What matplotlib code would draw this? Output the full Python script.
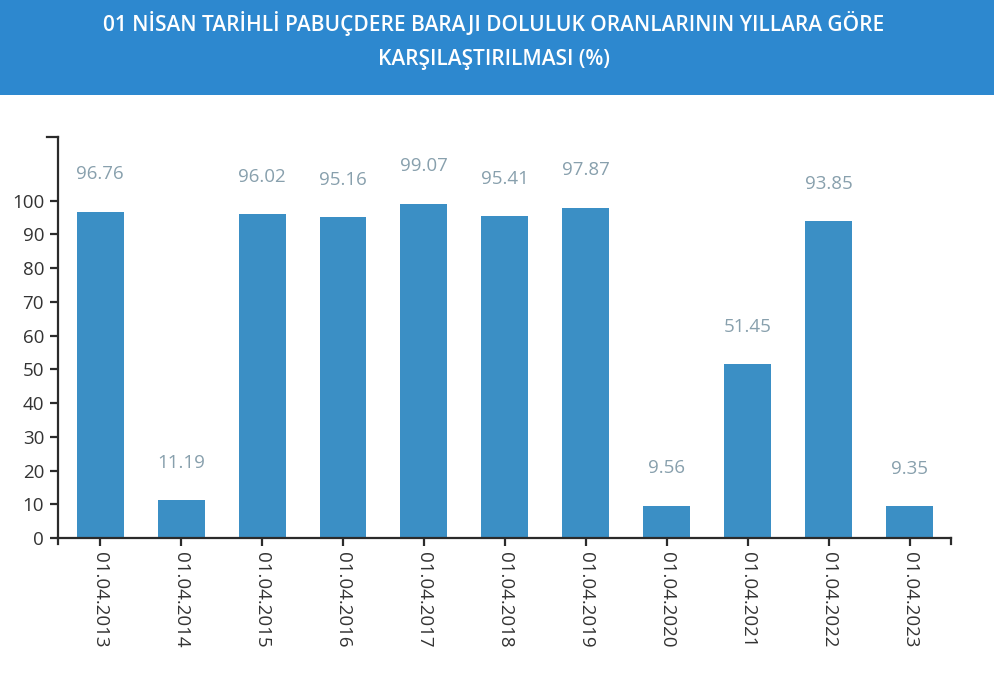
import matplotlib
matplotlib.use('Agg')
import matplotlib.pyplot as plt
from matplotlib.patches import Rectangle

plt.rcParams['font.family'] = ['Open Sans', 'DejaVu Sans']

# data
tarihler = ['01.04.2013', '01.04.2014', '01.04.2015', '01.04.2016', '01.04.2017', '01.04.2018',
            '01.04.2019', '01.04.2020', '01.04.2021', '01.04.2022', '01.04.2023']
doluluk = [96.76, 11.19, 96.02, 95.16, 99.07, 95.41, 97.87, 9.56, 51.45, 93.85, 9.35]
y_ticks = [0, 10, 20, 30, 40, 50, 60, 70, 80, 90, 100]

bar_renk = '#3b8fc5'
baslik_renk = '#2d88cf'
eksen_renk = '#2b2b2b'

fig = plt.figure(figsize=(9.94, 6.75), dpi=100)
fig.patch.set_facecolor('white')

# header banner
fig.patches.append(Rectangle((0, 1 - 95 / 675), 1, 95 / 675, transform=fig.transFigure,
                             facecolor=baslik_renk, edgecolor='none', zorder=0))
fig.text(0.497, 1 - 23 / 675, '01 NİSAN TARİHLİ PABUÇDERE BARAJI DOLULUK ORANLARININ YILLARA GÖRE',
         ha='center', va='center', color='white', fontsize=15, fontweight='semibold')
fig.text(0.497, 1 - 59 / 675, 'KARŞILAŞTIRILMASI (%)',
         ha='center', va='center', color='white', fontsize=15, fontweight='semibold')

ax = fig.add_axes([58 / 994, 1 - 538 / 675, (951 - 58) / 994, (538 - 137) / 675])
x = list(range(len(tarihler)))
bars = ax.bar(x, doluluk, width=0.58, color=bar_renk, zorder=2)

for xi, v in zip(x, doluluk):
    ax.annotate(f'{v:.2f}', (xi, v), xytext=(0, 27), textcoords='offset points',
                ha='center', va='center', fontsize=13.5, color='#88a0ad')

ax.set_xlim(-0.52, len(tarihler) - 1 + 0.51)
ax.set_ylim(0, max(doluluk) * 1.2)
ax.set_xticks(x)
ax.set_xticklabels(tarihler, rotation=-90, fontsize=13.5, color='#333333')
ax.set_yticks(y_ticks)
ax.set_yticklabels([str(t) for t in y_ticks], fontsize=13.5, color='#333333')

for s in ['top', 'right']:
    ax.spines[s].set_visible(False)
for s in ['left', 'bottom']:
    ax.spines[s].set_color(eksen_renk)
    ax.spines[s].set_linewidth(1.6)
ax.tick_params(axis='both', length=6, width=1.6, color=eksen_renk, pad=4)

# d3-style outer ticks at the ends of the axes
ax.plot([0, -0.012], [1, 1], transform=ax.transAxes, color=eksen_renk, lw=1.6, clip_on=False)
ax.plot([0, 0], [0, -0.015], transform=ax.transAxes, color=eksen_renk, lw=1.6, clip_on=False)
ax.plot([1, 1], [0, -0.015], transform=ax.transAxes, color=eksen_renk, lw=1.6, clip_on=False)

fig.savefig('out.png', dpi=100)
